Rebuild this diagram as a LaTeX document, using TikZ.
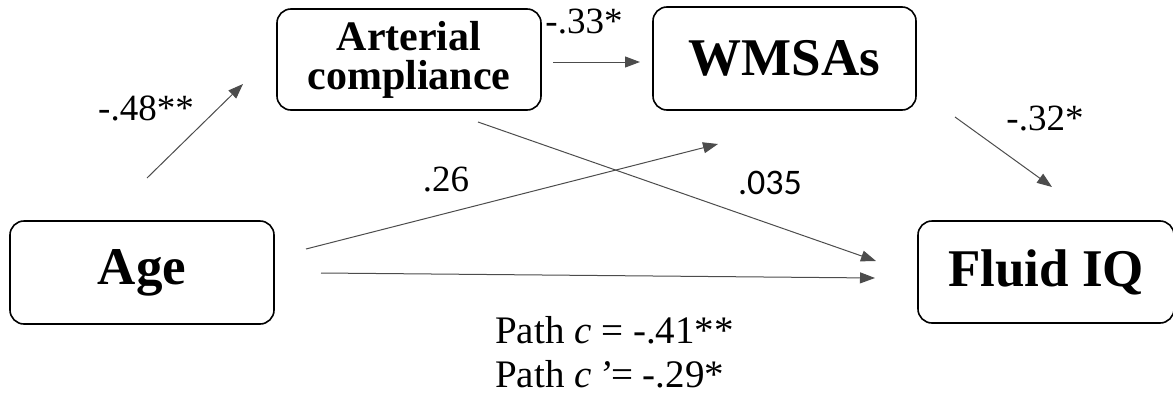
\documentclass[tikz,border=0pt]{standalone}
\usepackage{fontspec}
\setmainfont{Liberation Serif}
\newfontfamily\calfont{Carlito}
\usetikzlibrary{arrows.meta}

\tikzset{
  varbox/.style={draw=black, line width=1.6pt, rounded corners=14pt,
    inner sep=0pt, font=\bfseries},
  bigtext/.style={font=\fontsize{53}{58}\selectfont\bfseries},
  coef/.style={inner sep=0pt, font=\fontsize{37}{40}\selectfont},
  pathtext/.style={inner sep=0pt, font=\fontsize{39}{44}\selectfont},
  link/.style={draw=black!70, line width=1pt,
    -{Triangle[length=15pt, width=11pt]}},
}

\begin{document}
\begin{tikzpicture}[x=1pt, y=-1pt]
  \useasboundingbox (0,0) rectangle (1173,394);

  % variables
  \node[varbox, bigtext, minimum width=264pt, minimum height=103pt] (age) at (142,272.5) {Age};
  \node[varbox, minimum width=264pt, minimum height=101pt,
        font=\fontsize{42}{39}\selectfont\bfseries] (art) at (409,59.5)
        {\raisebox{-4pt}{\parbox{250pt}{\centering Arterial\\compliance}}};
  \node[varbox, bigtext, minimum width=263pt, minimum height=103pt] (wm) at (784.5,58.5) {WMSAs};
  \node[varbox, bigtext, minimum width=256pt, minimum height=102pt] (fiq) at (1046,272) {Fluid IQ};

  % free ends of the paths
  \coordinate (p1s) at (147,178);  \coordinate (p1e) at (243,84);
  \coordinate (p2s) at (553,62);   \coordinate (p2e) at (640,62);
  \coordinate (p3s) at (955,117);  \coordinate (p3e) at (1052,187);
  \coordinate (p4s) at (306,249);  \coordinate (p4e) at (718,144);
  \coordinate (p5s) at (478,122);  \coordinate (p5e) at (876,261);
  \coordinate (p6s) at (321,273);  \coordinate (p6e) at (875,278);

  \draw[link] (p1s) -- (p1e);
  \draw[link] (p2s) -- (p2e);
  \draw[link] (p3s) -- (p3e);
  \draw[link] (p4s) -- (p4e);
  \draw[link] (p5s) -- (p5e);
  \draw[link] (p6s) -- (p6e);

  % path coefficients
  \node[coef] (l1) at (146,108) {-.48**};
  \node[coef] (l2) at (584,22) {-.33*};
  \node[coef] (l3) at (1045,119) {-.32*};
  \node[coef] (l4) at (446,180) {.26};
  \node[coef, font=\fontsize{36}{40}\selectfont\calfont] (l5) at (770,183) {.035};

  \node[pathtext, anchor=base west] (pc) at (495,343) {Path \textit{c} = -.41**};
  \node[pathtext, anchor=base west] (pcp) at (495,387) {Path \textit{c}\,\textit{’}= -.29*};
\end{tikzpicture}
\end{document}
